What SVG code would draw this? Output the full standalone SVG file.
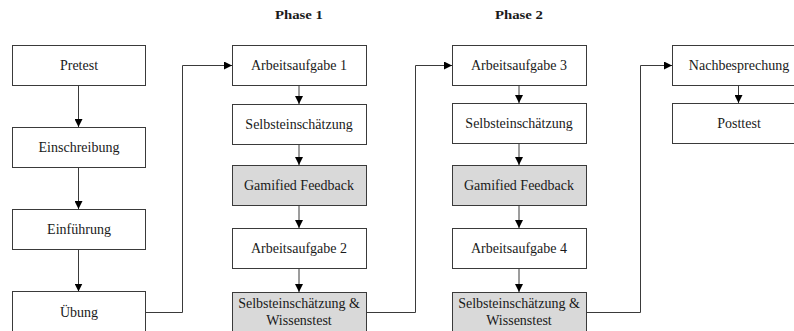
<svg xmlns="http://www.w3.org/2000/svg" width="794" height="331" viewBox="0 0 794 331">
<style>
.box{fill:#ffffff;stroke:#3a3a3a;stroke-width:1}
.gray{fill:#d9d9d9}
text{font-family:"Liberation Serif",serif;fill:#1a1a1a;text-anchor:middle}
.t{font-size:14px}
.h{font-size:13px;font-weight:bold}
.c{fill:none;stroke:#3a3a3a;stroke-width:1}
</style>
<defs>
<marker id="ah" markerUnits="userSpaceOnUse" markerWidth="8" markerHeight="8" viewBox="0 0 8 8" refX="8" refY="4" orient="auto">
<path d="M0,0 L8,4 L0,8 Z" fill="#000"/>
</marker>
</defs>
<rect width="794" height="331" fill="#ffffff"/>
<text class="h" x="299" y="19" textLength="48" lengthAdjust="spacingAndGlyphs">Phase 1</text>
<text class="h" x="519" y="19" textLength="48" lengthAdjust="spacingAndGlyphs">Phase 2</text>

<g id="connectors">
<line class="c" x1="78.5" y1="85" x2="78.5" y2="127" marker-end="url(#ah)"/>
<line class="c" x1="78.5" y1="167" x2="78.5" y2="209" marker-end="url(#ah)"/>
<line class="c" x1="78.5" y1="250" x2="78.5" y2="291.5" marker-end="url(#ah)"/>
<polyline class="c" points="145,312.5 182.5,312.5 182.5,65.5 232,65.5" marker-end="url(#ah)"/>

<line class="c" x1="299" y1="85" x2="299" y2="104" marker-end="url(#ah)"/>
<line class="c" x1="299" y1="145" x2="299" y2="165" marker-end="url(#ah)"/>
<line class="c" x1="299" y1="205" x2="299" y2="228" marker-end="url(#ah)"/>
<line class="c" x1="299" y1="268" x2="299" y2="292" marker-end="url(#ah)"/>
<polyline class="c" points="366,312.5 415.5,312.5 415.5,65.5 452,65.5" marker-end="url(#ah)"/>

<line class="c" x1="519" y1="85" x2="519" y2="103" marker-end="url(#ah)"/>
<line class="c" x1="519" y1="144" x2="519" y2="165" marker-end="url(#ah)"/>
<line class="c" x1="519" y1="205" x2="519" y2="228" marker-end="url(#ah)"/>
<line class="c" x1="519" y1="268" x2="519" y2="292" marker-end="url(#ah)"/>
<polyline class="c" points="586,312.5 640.5,312.5 640.5,65.5 672,65.5" marker-end="url(#ah)"/>

<line class="c" x1="738.5" y1="85" x2="738.5" y2="103" marker-end="url(#ah)"/>
</g>

<g id="pretest"><rect class="box" x="12.5" y="45.5" width="133" height="40"/><text class="t" x="79" y="70">Pretest</text></g>
<g id="einschreibung"><rect class="box" x="12.5" y="127.5" width="133" height="40"/><text class="t" x="79" y="152">Einschreibung</text></g>
<g id="einfuehrung"><rect class="box" x="12.5" y="209.5" width="133" height="40"/><text class="t" x="79" y="234">Einführung</text></g>
<g id="uebung"><rect class="box" x="12.5" y="291.5" width="133" height="41"/><text class="t" x="79" y="317">Übung</text></g>

<g id="aa1"><rect class="box" x="232.5" y="45.5" width="134" height="40"/><text class="t" x="299" y="70">Arbeitsaufgabe 1</text></g>
<g id="se1"><rect class="box" x="232.5" y="104.5" width="134" height="40"/><text class="t" x="299" y="129">Selbsteinschätzung</text></g>
<g id="gf1"><rect class="box gray" x="232.5" y="165.5" width="134" height="40"/><text class="t" x="299" y="190">Gamified Feedback</text></g>
<g id="aa2"><rect class="box" x="232.5" y="228.5" width="134" height="40"/><text class="t" x="299" y="253">Arbeitsaufgabe 2</text></g>
<g id="sw1"><rect class="box gray" x="232.5" y="292.5" width="134" height="41"/><text class="t" x="299" y="308">Selbsteinschätzung &amp;</text><text class="t" x="299" y="325">Wissenstest</text></g>

<g id="aa3"><rect class="box" x="452.5" y="45.5" width="134" height="40"/><text class="t" x="519" y="70">Arbeitsaufgabe 3</text></g>
<g id="se2"><rect class="box" x="452.5" y="103.5" width="134" height="40"/><text class="t" x="519" y="128">Selbsteinschätzung</text></g>
<g id="gf2"><rect class="box gray" x="452.5" y="165.5" width="134" height="40"/><text class="t" x="519" y="190">Gamified Feedback</text></g>
<g id="aa4"><rect class="box" x="452.5" y="228.5" width="134" height="40"/><text class="t" x="519" y="253">Arbeitsaufgabe 4</text></g>
<g id="sw2"><rect class="box gray" x="452.5" y="292.5" width="134" height="41"/><text class="t" x="519" y="308">Selbsteinschätzung &amp;</text><text class="t" x="519" y="325">Wissenstest</text></g>

<g id="nachbesprechung"><rect class="box" x="672.5" y="45.5" width="134" height="40"/><text class="t" x="739" y="70">Nachbesprechung</text></g>
<g id="posttest"><rect class="box" x="672.5" y="103.5" width="134" height="40"/><text class="t" x="739" y="128">Posttest</text></g>
</svg>
